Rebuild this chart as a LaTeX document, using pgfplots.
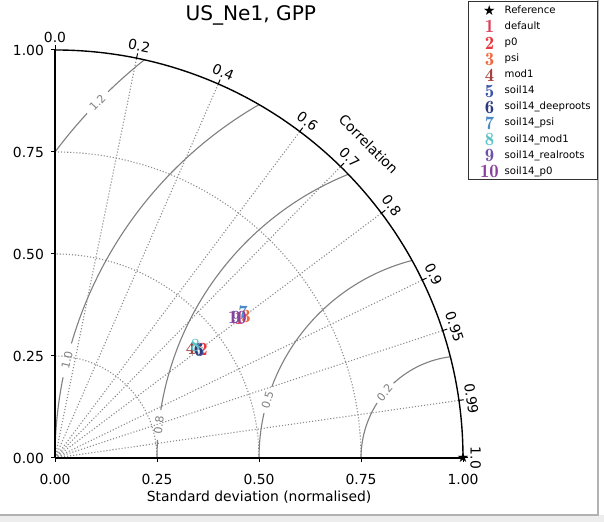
\documentclass[border=0pt]{standalone}
\usepackage{fontspec}
\setmainfont{DejaVu Sans}
\newfontfamily\markfont{lmromandemi10-regular}[Extension=.otf]
\usepackage{pgfplots}
\pgfplotsset{compat=1.18}

\definecolor{c1}{HTML}{DC3C5A}
\definecolor{c2}{HTML}{E8383D}
\definecolor{c3}{HTML}{F0683C}
\definecolor{c4}{HTML}{A5403F}
\definecolor{c5}{HTML}{3B56A6}
\definecolor{c6}{HTML}{2E3A7E}
\definecolor{c7}{HTML}{4B8AC4}
\definecolor{c8}{HTML}{5BC3C6}
\definecolor{c9}{HTML}{7052A6}
\definecolor{c10}{HTML}{8A3F9C}
\definecolor{rmsgray}{HTML}{808080}
\definecolor{gridgray}{HTML}{8C8C8C}

% centred RMS difference contour around the reference point (1,0)
\newcommand\rmsarc[3]{\draw[rmsgray, line width=0.8pt]
  ({1+#1*cos(#2)},{#1*sin(#2)}) arc[start angle=#2, end angle=#3, radius=#1];}
\newcommand\rmslabel[3]{\node[text=rmsgray, font=\fontsize{8}{8}\selectfont,
  rotate=#2-90, inner sep=0pt] at ({1+#1*cos(#2)},{#1*sin(#2)}) {#3};}
% numbered model marker
\newcommand\mk[2]{{\color{#1}\markfont\fontsize{13.5}{13.5}\selectfont #2}}

\begin{document}
\begin{tikzpicture}
\def\U{293.8pt}
\begin{scope}[x=\U, y=\U]
  % frame of the figure
  \fill[black!7] (-0.1348,-0.1569) rectangle (1.3456,-0.1397);
  \draw[black!30, line width=0.8pt] (-0.1348,-0.1397) -- (1.331,-0.1397) -- (1.331,1.1225);
  % standard deviation grid
  \foreach \r in {0.25,0.5,0.75}
    \draw[gridgray, line width=0.8pt, dash pattern=on 0.8pt off 1.4pt]
      (\r,0) arc[start angle=0, end angle=90, radius=\r];
  % correlation grid
  \foreach \c in {0.2,0.4,0.6,0.7,0.8,0.9,0.95,0.99} {
    \pgfmathsetmacro\a{acos(\c)}
    \draw[gridgray, line width=0.8pt, dash pattern=on 0.8pt off 1.4pt] (0,0) -- (\a:1);
  }
  % RMS contours with gaps for their labels
  \rmsarc{0.25}{180}{147.4}\rmsarc{0.25}{132.9}{97.18}
  \rmsarc{0.5}{180}{167.3}\rmsarc{0.5}{159.6}{104.48}
  \rmsarc{0.75}{180}{176.6}\rmsarc{0.75}{171.0}{112.02}
  \rmsarc{1.0}{180}{168.6}\rmsarc{1.0}{163.7}{120}
  \rmsarc{1.25}{143.13}{137.5}\rmsarc{1.25}{134.1}{128.68}
  \rmslabel{0.25}{140.2}{0.2}
  \rmslabel{0.5}{163.5}{0.5}
  \rmslabel{0.75}{173.8}{0.8}
  \rmslabel{1.0}{166.1}{1.0}
  \rmslabel{1.25}{135.8}{1.2}
  % outer correlation axis
  \draw[black, line width=1pt] (0,1) arc[start angle=90, end angle=0, radius=1];
  \foreach \c/\t in {0/0.0,0.2/0.2,0.4/0.4,0.6/0.6,0.7/0.7,0.8/0.8,0.9/0.9,0.95/0.95,0.99/0.99,1/1.0} {
    \pgfmathsetmacro\a{acos(\c)}
    \draw[black, line width=0.7pt] (\a:1) -- (\a:1.012);
    \node[rotate=\a-90, anchor=south, inner sep=1pt, font=\fontsize{10}{10}\selectfont] at (\a:1.014) {\t};
  }
  \node[rotate=-45, font=\fontsize{10}{10}\selectfont] at (45:1.087) {Correlation};
\end{scope}

\begin{axis}[
  at={(0,0)}, anchor=south west,
  x=\U, y=\U,
  xmin=0, xmax=1, ymin=0, ymax=1,
  clip=false,
  axis lines=left,
  axis line style={-, line width=0.9pt, black},
  xtick={0,0.25,0.5,0.75,1}, ytick={0,0.25,0.5,0.75,1},
  xticklabels={0.00,0.25,0.50,0.75,1.00},
  yticklabels={0.00,0.25,0.50,0.75,1.00},
  ticklabel style={font=\fontsize{10}{10}\selectfont},
  xticklabel style={yshift=-5pt},
  yticklabel style={xshift=-1.5pt},
  tick align=outside, major tick length=3pt,
  tick style={black, line width=0.7pt},
  xlabel={Standard deviation (normalised)},
  xlabel style={at={(axis description cs:0.5,-0.095)}, anchor=center, font=\fontsize{10}{10}\selectfont},
  title={US\_Ne1, GPP},
  every axis title shift=0pt,
  title style={at={(axis description cs:0.480,1.072)}, anchor=base, font=\fontsize{14.5}{14.5}\selectfont},
  legend style={at={(axis description cs:1.331,1.1195)}, anchor=north east,
    font=\fontsize{7.3}{7.3}\selectfont, draw=black!80, line width=0.6pt,
    row sep=0pt, column sep=0pt, inner xsep=4pt, inner ysep=0.2pt,
    nodes={inner sep=1pt, text height=7.1pt, text depth=2.5pt}},
  legend cell align=left,
  legend image code/.code={%
    \path[draw=none] (0cm,0cm) -- (0.74cm,0cm);
    \draw[#1, only marks] plot coordinates {(0.39cm,-0.02cm)};},
]
\addplot[only marks, mark=text, text mark={{\fontsize{10}{10}\selectfont ★}}, black] coordinates {(1,0)};
\addlegendentry{Reference}
\addplot[only marks, mark=text, text mark={\mk{c1}{1}}, c1] coordinates {(0.452,0.343)};
\addlegendentry{default}
\addplot[only marks, mark=text, text mark={\mk{c2}{2}}, c2] coordinates {(0.363,0.265)};
\addlegendentry{p0}
\addplot[only marks, mark=text, text mark={\mk{c3}{3}}, c3] coordinates {(0.468,0.348)};
\addlegendentry{psi}
\addplot[only marks, mark=text, text mark={\mk{c4}{4}}, c4] coordinates {(0.332,0.269)};
\addlegendentry{mod1}
\addplot[only marks, mark=text, text mark={\mk{c5}{5}}, c5] coordinates {(0.355,0.264)};
\addlegendentry{soil14}
\addplot[only marks, mark=text, text mark={\mk{c6}{6}}, c6] coordinates {(0.352,0.265)};
\addlegendentry{soil14\_deeproots}
\addplot[only marks, mark=text, text mark={\mk{c7}{7}}, c7] coordinates {(0.461,0.357)};
\addlegendentry{soil14\_psi}
\addplot[only marks, mark=text, text mark={\mk{c8}{8}}, c8] coordinates {(0.344,0.275)};
\addlegendentry{soil14\_mod1}
\addplot[only marks, mark=text, text mark={\mk{c9}{9}}, c9] coordinates {(0.444,0.344)};
\addlegendentry{soil14\_realroots}
\addplot[only marks, mark=text, text mark={\mk{c10}{10}}, c10] coordinates {(0.447,0.345)};
\addlegendentry{soil14\_p0}
\end{axis}

\pgfresetboundingbox
\begin{scope}[x=\U, y=\U]
  \path (-0.1348,-0.1569) rectangle (1.3456,1.1225);
\end{scope}
\end{tikzpicture}
\end{document}
